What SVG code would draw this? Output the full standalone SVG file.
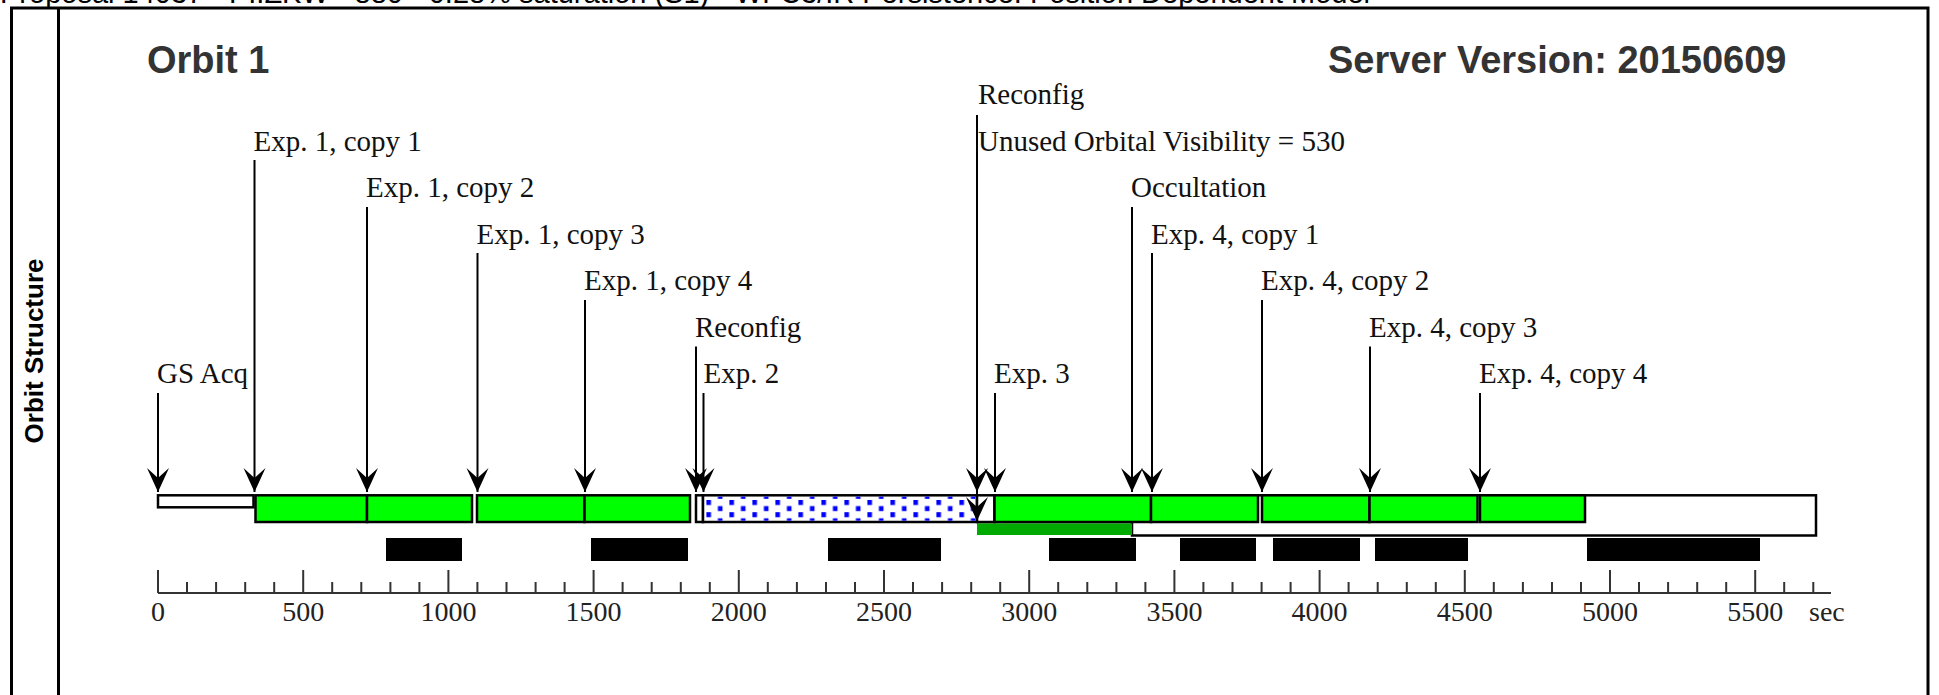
<svg xmlns="http://www.w3.org/2000/svg" width="1939" height="695" viewBox="0 0 1939 695">
<style>
.frame{fill:none;stroke:#000;stroke-width:3}
.title{font-family:"Liberation Sans",Arial,sans-serif;font-weight:bold;font-size:38px;fill:#333}
.side{font-family:"Liberation Sans",Arial,sans-serif;font-weight:bold;font-size:26px;fill:#000}
.top{font-family:"Liberation Sans",Arial,sans-serif;font-size:29px;fill:#000}
.lbl{font-family:"Liberation Serif","Times New Roman",serif;font-size:29px;fill:#111}
.ax{font-family:"Liberation Serif","Times New Roman",serif;font-size:28px;fill:#222}
.box{stroke:#000;stroke-width:2.5}
.g{fill:#00ff00}
.w{fill:#fff}
.blk{fill:#000}
.arr{stroke:#000;stroke-width:2;fill:none;marker-end:url(#ah)}
.tick{stroke:#333;stroke-width:2}
</style>
<defs>
<marker id="ah" markerUnits="userSpaceOnUse" markerWidth="26" markerHeight="26" refX="24" refY="12" orient="auto" overflow="visible">
<path d="M24,12 L0,1 L10,12 L0,23 Z" fill="#000"/>
</marker>
<pattern id="dots" patternUnits="userSpaceOnUse" x="706.4" y="500" width="23" height="12.2">
<rect x="0" y="0" width="4.6" height="5" fill="#0000ff"/>
<rect x="11.5" y="6.1" width="4.6" height="5" fill="#0000ff"/>
</pattern>
</defs>
<rect width="1939" height="695" fill="#fff"/>
<text class="top" x="0" y="3">Proposal 14037 - PI:ZKW - 880 - 0.28% saturation (S1) - WFC3/IR Persistence: Position Dependent Model</text>
<g id="frame">
<rect class="frame" x="11.5" y="8" width="1916.5" height="730"/>
<line class="frame" x1="58.5" y1="8" x2="58.5" y2="700"/>
<line class="frame" x1="11.5" y1="696.5" x2="58.5" y2="696.5"/>
<text class="side" transform="translate(43,351) rotate(-90)" text-anchor="middle">Orbit Structure</text>
<text class="title" x="147" y="73">Orbit 1</text>
<text class="title" x="1328" y="73">Server Version: 20150609</text>
</g>
<g id="shadow-bars">
<rect class="blk" x="386" y="538" width="76" height="23"/>
<rect class="blk" x="591" y="538" width="97" height="23"/>
<rect class="blk" x="828" y="538" width="113" height="23"/>
<rect class="blk" x="1049" y="538" width="87" height="23"/>
<rect class="blk" x="1180" y="538" width="76" height="23"/>
<rect class="blk" x="1273" y="538" width="87" height="23"/>
<rect class="blk" x="1375" y="538" width="93" height="23"/>
<rect class="blk" x="1587" y="538" width="173" height="23"/>
</g>
<g id="occultation">
<rect class="box w" x="1132" y="495.3" width="684" height="40.2"/>
<rect x="977" y="523.3" width="155" height="11.7" fill="#00aa00"/>
<text class="lbl" x="1131" y="197">Occultation</text>
</g>
<g id="gs-acq"><rect class="box w" x="158" y="495.3" width="95.5" height="12"/><text class="lbl" x="157" y="383">GS Acq</text></g>
<g id="exp1-copy1"><rect class="box g" x="255.5" y="495.3" width="111.5" height="26.7"/><text class="lbl" x="253.5" y="150.5">Exp. 1, copy 1</text></g>
<g id="exp1-copy2"><rect class="box g" x="367" y="495.3" width="105" height="26.7"/><text class="lbl" x="366" y="197">Exp. 1, copy 2</text></g>
<g id="exp1-copy3"><rect class="box g" x="477" y="495.3" width="107.5" height="26.7"/><text class="lbl" x="476.5" y="243.5">Exp. 1, copy 3</text></g>
<g id="exp1-copy4"><rect class="box g" x="584.5" y="495.3" width="105.5" height="26.7"/><text class="lbl" x="584" y="290">Exp. 1, copy 4</text></g>
<g id="reconfig1"><rect class="box w" x="696" y="495.3" width="7" height="26.7"/><text class="lbl" x="695" y="336.5">Reconfig</text></g>
<g id="exp2"><rect class="box" fill="#fff" x="703" y="495.3" width="274" height="26.7"/><rect x="704.3" y="496.6" width="271.4" height="24.1" fill="url(#dots)"/><text class="lbl" x="703.5" y="383">Exp. 2</text></g>
<g id="reconfig2"><rect class="box w" x="977" y="495.3" width="17.5" height="26.7"/><text class="lbl" x="978" y="104">Reconfig</text></g>
<g id="unused"><text class="lbl" x="978" y="150.5">Unused Orbital Visibility = 530</text></g>
<g id="exp3"><rect class="box g" x="994.5" y="495.3" width="156.5" height="26.7"/><text class="lbl" x="994" y="383">Exp. 3</text></g>
<g id="exp4-copy1"><rect class="box g" x="1151" y="495.3" width="107" height="26.7"/><text class="lbl" x="1151" y="243.5">Exp. 4, copy 1</text></g>
<g id="exp4-copy2"><rect class="box g" x="1262" y="495.3" width="107.5" height="26.7"/><text class="lbl" x="1261" y="290">Exp. 4, copy 2</text></g>
<g id="exp4-copy3"><rect class="box g" x="1369.5" y="495.3" width="108" height="26.7"/><text class="lbl" x="1369" y="336.5">Exp. 4, copy 3</text></g>
<g id="exp4-copy4"><rect class="box g" x="1480" y="495.3" width="105" height="26.7"/><text class="lbl" x="1479" y="383">Exp. 4, copy 4</text></g>
<g id="connectors">
<line class="arr" x1="158" y1="393" x2="158" y2="492"/>
<line class="arr" x1="254.5" y1="160" x2="254.5" y2="492"/>
<line class="arr" x1="367" y1="207" x2="367" y2="492"/>
<line class="arr" x1="477.5" y1="253" x2="477.5" y2="492"/>
<line class="arr" x1="585" y1="300" x2="585" y2="492"/>
<line class="arr" x1="696" y1="346.5" x2="696" y2="492"/>
<line class="arr" x1="703.5" y1="393" x2="703.5" y2="492"/>
<line class="arr" x1="977" y1="115" x2="977" y2="492"/>
<line class="arr" x1="977" y1="155" x2="977" y2="521"/>
<line class="arr" x1="995" y1="393" x2="995" y2="492"/>
<line class="arr" x1="1132" y1="207" x2="1132" y2="492"/>
<line class="arr" x1="1152" y1="253" x2="1152" y2="492"/>
<line class="arr" x1="1262" y1="300" x2="1262" y2="492"/>
<line class="arr" x1="1370" y1="346.5" x2="1370" y2="492"/>
<line class="arr" x1="1480" y1="393" x2="1480" y2="492"/>
</g>
<g id="axis">
<line class="tick" x1="158" y1="593" x2="1831" y2="593"/>
<path class="tick" fill="none" d="M158,570V593 M303.2,570V593 M448.4,570V593 M593.6,570V593 M738.8,570V593 M884,570V593 M1029.2,570V593 M1174.4,570V593 M1319.6,570V593 M1464.8,570V593 M1610,570V593 M1755.2,570V593"/>
<path class="tick" fill="none" d="M187,582V593 M216.1,582V593 M245.2,582V593 M274.2,582V593 M332.2,582V593 M361.3,582V593 M390.4,582V593 M419.4,582V593 M477.4,582V593 M506.5,582V593 M535.6,582V593 M564.6,582V593 M622.6,582V593 M651.7,582V593 M680.8,582V593 M709.8,582V593 M767.8,582V593 M796.9,582V593 M826,582V593 M855,582V593 M913,582V593 M942.1,582V593 M971.2,582V593 M1000.2,582V593 M1058.2,582V593 M1087.3,582V593 M1116.4,582V593 M1145.4,582V593 M1203.4,582V593 M1232.5,582V593 M1261.6,582V593 M1290.6,582V593 M1348.6,582V593 M1377.7,582V593 M1406.8,582V593 M1435.8,582V593 M1493.8,582V593 M1522.9,582V593 M1552,582V593 M1581,582V593 M1639,582V593 M1668.1,582V593 M1697.2,582V593 M1726.2,582V593 M1784.2,582V593 M1813.3,582V593"/>
<g class="ax" text-anchor="middle">
<text x="158" y="621">0</text>
<text x="303.2" y="621">500</text>
<text x="448.4" y="621">1000</text>
<text x="593.6" y="621">1500</text>
<text x="738.8" y="621">2000</text>
<text x="884" y="621">2500</text>
<text x="1029.2" y="621">3000</text>
<text x="1174.4" y="621">3500</text>
<text x="1319.6" y="621">4000</text>
<text x="1464.8" y="621">4500</text>
<text x="1610" y="621">5000</text>
<text x="1755.2" y="621">5500</text>
</g>
<text class="ax" x="1809" y="621">sec</text>
</g>
</svg>
